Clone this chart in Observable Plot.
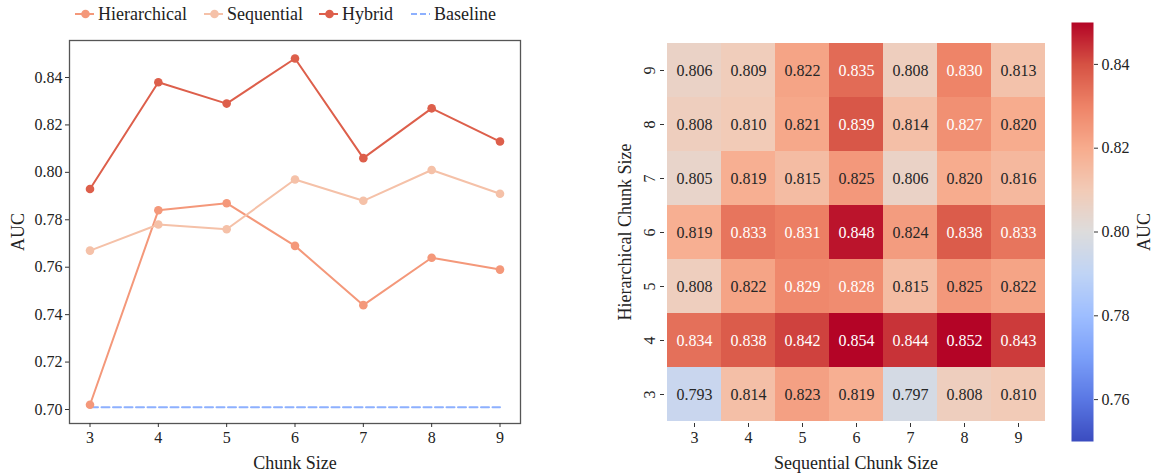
<!DOCTYPE html>
<html><head><meta charset="utf-8">
<script src="https://cdn.jsdelivr.net/npm/d3@7"></script>
<script src="https://cdn.jsdelivr.net/npm/@observablehq/plot@0.6"></script>
<style>
body{margin:0;background:#fff;font-family:'Liberation Serif','Times New Roman','DejaVu Serif',serif;color:#222;}
#wrap{position:relative;width:1153px;height:475px;overflow:hidden;}
.abs{position:absolute;top:0;}
#legend{position:absolute;left:0;top:2px;height:24px;width:540px;font-size:18px;}
#legend .item{position:absolute;top:0;height:24px;display:flex;align-items:center;gap:4px;white-space:nowrap;}
</style></head><body><div id="wrap"><div id="legend"></div></div>
<script>
// ---- data ----
const chunkSizes = [3, 4, 5, 6, 7, 8, 9];
const seriesNames = ["Hierarchical", "Sequential", "Hybrid"];
const seriesColors = ["#f4987a", "#f5c1a8", "#dd5f4b"];
const baselineName = "Baseline";
const baselineColor = "#8db0fe";
const hierarchical = [0.702, 0.784, 0.787, 0.769, 0.744, 0.764, 0.759];
const sequential   = [0.767, 0.778, 0.776, 0.797, 0.788, 0.801, 0.791];
const hybrid       = [0.793, 0.838, 0.829, 0.848, 0.806, 0.827, 0.813];
const baselineValue = 0.701;
const lineYTicks = [0.70, 0.72, 0.74, 0.76, 0.78, 0.80, 0.82, 0.84];

const seqSizes = [3, 4, 5, 6, 7, 8, 9];
const hierSizes = [9, 8, 7, 6, 5, 4, 3];
const heatValues = [
  [0.806, 0.809, 0.822, 0.835, 0.808, 0.830, 0.813], // 9
  [0.808, 0.810, 0.821, 0.839, 0.814, 0.827, 0.820], // 8
  [0.805, 0.819, 0.815, 0.825, 0.806, 0.820, 0.816], // 7
  [0.819, 0.833, 0.831, 0.848, 0.824, 0.838, 0.833], // 6
  [0.808, 0.822, 0.829, 0.828, 0.815, 0.825, 0.822], // 5
  [0.834, 0.838, 0.842, 0.854, 0.844, 0.852, 0.843], // 4
  [0.793, 0.814, 0.823, 0.819, 0.797, 0.808, 0.810]  // 3
];
const cbarTicks = [0.76, 0.78, 0.80, 0.82, 0.84];
const cmapDomain = [0.75, 0.76, 0.77, 0.78, 0.79, 0.80, 0.81, 0.82, 0.83, 0.84, 0.85];
const cmapRange = ["#3b4cc0", "#5a78e4", "#7b9ff9", "#9ebeff", "#c0d4f5", "#dddcdc",
                   "#f2cbb7", "#f7ac8e", "#ee8468", "#d65244", "#b40426"];

// ---- derived tables ----
const seriesValues = [hierarchical, sequential, hybrid];
const lineData = seriesNames.flatMap((name, s) =>
  chunkSizes.map((x, i) => ({series: name, x, y: seriesValues[s][i]})));
const baselineData = chunkSizes.map(x => ({x, y: baselineValue}));
const heatData = hierSizes.flatMap((h, r) =>
  seqSizes.map((s, c) => ({seq: s, hier: h, v: heatValues[r][c]})));

const FONT = "'Liberation Serif', 'Times New Roman', 'DejaVu Serif', serif";
const ink = "#222";
const colorScale = {type: "linear", domain: cmapDomain, range: cmapRange, clamp: true, interpolate: "rgb"};
const wrap = document.getElementById("wrap");

// ---- line chart ----
const p1 = Plot.plot({
  width: 540, height: 475,
  marginTop: 40, marginBottom: 52, marginLeft: 69, marginRight: 20,
  style: {fontFamily: FONT, fontSize: "16px", color: ink, background: "transparent", overflow: "visible"},
  x: {domain: [2.7, 9.3]},
  y: {domain: [0.6941, 0.8556]},
  color: {domain: seriesNames, range: seriesColors},
  marks: [
    Plot.line(baselineData, {x: "x", y: "y", stroke: baselineColor, strokeWidth: 2, strokeDasharray: "8,3.5"}),
    Plot.line(lineData, {x: "x", y: "y", z: "series", stroke: "series", strokeWidth: 2}),
    Plot.dot(lineData, {x: "x", y: "y", fill: "series", r: 4.3, stroke: null}),
    Plot.frame({stroke: "#555", strokeWidth: 1.3}),
    Plot.axisX({ticks: chunkSizes, tickFormat: d => String(d), tickSize: 4, tickPadding: 4, label: null, stroke: "#333"}),
    Plot.axisY({ticks: lineYTicks, tickFormat: d3.format(".2f"), tickSize: 4, tickPadding: 3, label: null, stroke: "#333"}),
    Plot.text(["Chunk Size"], {frameAnchor: "bottom", dy: 40, lineAnchor: "middle", fontSize: 18, fill: ink}),
    Plot.text(["AUC"], {frameAnchor: "left", dx: -51, rotate: -90, lineAnchor: "middle", textAnchor: "middle", fontSize: 18, fill: ink})
  ]
});
p1.classList.add("abs"); p1.style.left = "0px";
wrap.appendChild(p1);

// ---- legend (HTML, above the left panel) ----
const legend = document.getElementById("legend");
const legendItems = seriesNames.map((n, i) => ({name: n, color: seriesColors[i], dashed: false}))
  .concat([{name: baselineName, color: baselineColor, dashed: true}]);
const legendLeft = [75, 204, 319, 411];
legendItems.forEach((it, k) => {
  const d = document.createElement("div");
  d.className = "item";
  d.style.left = legendLeft[k] + "px";
  const sw = it.dashed
    ? `<svg width="19" height="12"><line x1="0" x2="19" y1="6" y2="6" stroke="${it.color}" stroke-width="2" stroke-dasharray="6,3"/></svg>`
    : `<svg width="19" height="12"><line x1="0" x2="19" y1="6" y2="6" stroke="${it.color}" stroke-width="2"/><circle cx="10.5" cy="6" r="4.3" fill="${it.color}"/></svg>`;
  d.innerHTML = sw + `<span>${it.name}</span>`;
  legend.appendChild(d);
});

// ---- heatmap ----
const p2 = Plot.plot({
  width: 480, height: 475,
  marginTop: 40, marginBottom: 52, marginLeft: 84, marginRight: 13,
  style: {fontFamily: FONT, fontSize: "16px", color: ink, background: "transparent", overflow: "visible"},
  x: {type: "band", domain: seqSizes, padding: 0},
  y: {type: "band", domain: hierSizes, padding: 0},
  color: colorScale,
  marks: [
    Plot.cell(heatData, {x: "seq", y: "hier", fill: "v", inset: 0}),
    Plot.text(heatData, {x: "seq", y: "hier", text: d => d.v.toFixed(3), fontSize: 16,
      fill: d => d.v > 0.826 ? "#ffffff" : "#262626"}),
    Plot.axisX({tickSize: 4, tickPadding: 4, label: null, stroke: "#333"}),
    Plot.axisY({tickSize: 4, tickFormat: () => "", label: null, stroke: "#333"}),
    Plot.text(hierSizes, {y: d => d, frameAnchor: "left", dx: -15, rotate: -90, lineAnchor: "middle", textAnchor: "middle", fontSize: 16, fill: ink}),
    Plot.text(["Sequential Chunk Size"], {frameAnchor: "bottom", dy: 40, lineAnchor: "middle", fontSize: 18, fill: ink}),
    Plot.text(["Hierarchical Chunk Size"], {frameAnchor: "left", dx: -39, rotate: -90, lineAnchor: "middle", textAnchor: "middle", fontSize: 18, fill: ink})
  ]
});
p2.classList.add("abs"); p2.style.left = "580px";
wrap.appendChild(p2);

// ---- colorbar ----
const p3 = Plot.plot({
  width: 113, height: 475,
  marginTop: 22, marginBottom: 34, marginLeft: 31, marginRight: 60,
  style: {fontFamily: FONT, fontSize: "16px", color: ink, background: "transparent", overflow: "visible"},
  x: {domain: [0, 1], axis: null},
  y: {domain: [cmapDomain[0], cmapDomain[cmapDomain.length - 1]]},
  color: colorScale,
  marks: [
    Plot.raster({x1: 0, x2: 1, y1: cmapDomain[0], y2: cmapDomain[cmapDomain.length - 1], width: 1, height: 420,
      fill: (x, y) => y, imageRendering: "auto"}),
    Plot.axisY({anchor: "right", ticks: cbarTicks, tickFormat: d3.format(".2f"), tickSize: 4, tickPadding: 4, label: null, stroke: "#333"}),
    Plot.text(["AUC"], {frameAnchor: "right", dx: 51, rotate: -90, lineAnchor: "middle", textAnchor: "middle", fontSize: 18, fill: ink})
  ]
});
p3.classList.add("abs"); p3.style.left = "1040px";
wrap.appendChild(p3);
</script>
</body></html>
